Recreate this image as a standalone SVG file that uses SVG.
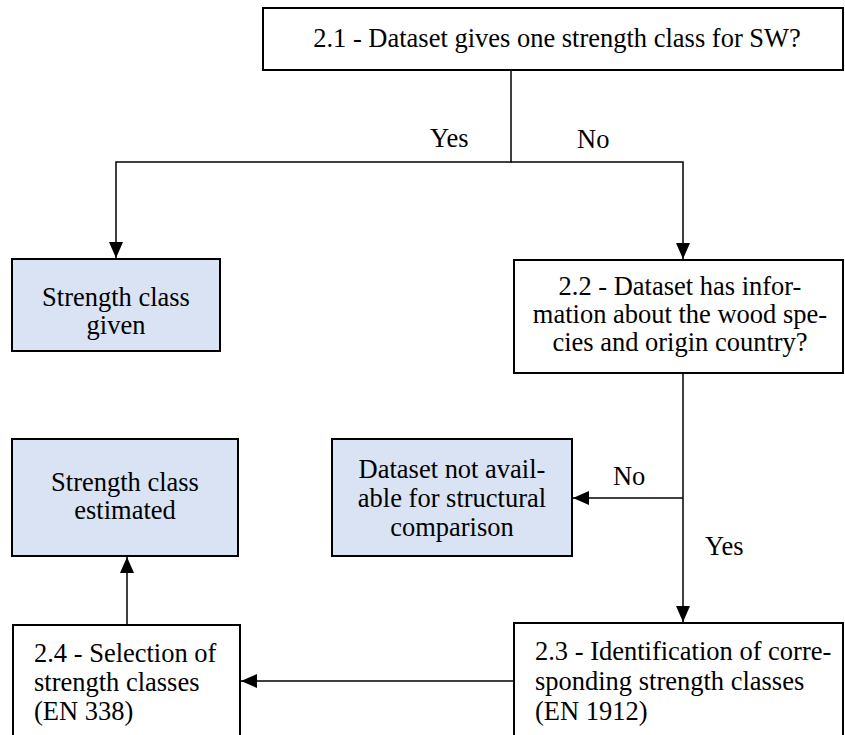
<svg xmlns="http://www.w3.org/2000/svg" width="845" height="735" viewBox="0 0 845 735">
<defs>
<marker id="arr" viewBox="0 0 16 14" refX="16" refY="7" markerWidth="16" markerHeight="14" markerUnits="userSpaceOnUse" orient="auto">
<path d="M0,0 L16,7 L0,14 Z" fill="#000"/>
</marker>
</defs>
<style>
.box{fill:#fff;stroke:#000;stroke-width:2}
.blue{fill:#DAE3F3;stroke:#000;stroke-width:2}
.ln{fill:none;stroke:#000;stroke-width:1.5}
</style>
<rect width="845" height="735" fill="#fff"/>
<g id="n21">
<rect class="box" x="263" y="8" width="580" height="62"/>
<g transform="scale(0.88333)">
<text x="630.57" y="53.21" font-size="30" font-family="'Liberation Serif'" text-anchor="middle">2.1 - Dataset gives one strength class for SW?</text>
</g>
</g>
<g id="given">
<rect class="blue" x="12" y="259" width="208" height="92"/>
<g transform="scale(0.88333)">
<text x="131.32" y="346.42" font-size="30" font-family="'Liberation Serif'" text-anchor="middle">Strength class</text>
<text x="131.32" y="378.11" font-size="30" font-family="'Liberation Serif'" text-anchor="middle">given</text>
</g>
</g>
<g id="n22">
<rect class="box" x="514" y="260" width="329" height="113"/>
<g transform="scale(0.88333)">
<text x="769.81" y="333.96" font-size="30" font-family="'Liberation Serif'" text-anchor="middle">2.2 - Dataset has infor-</text>
<text x="769.81" y="365.66" font-size="30" font-family="'Liberation Serif'" text-anchor="middle">mation about the wood spe-</text>
<text x="769.81" y="397.36" font-size="30" font-family="'Liberation Serif'" text-anchor="middle">cies and origin country?</text>
</g>
</g>
<g id="estimated">
<rect class="blue" x="12" y="439" width="226" height="117"/>
<g transform="scale(0.88333)">
<text x="141.51" y="555.85" font-size="30" font-family="'Liberation Serif'" text-anchor="middle">Strength class</text>
<text x="141.51" y="587.55" font-size="30" font-family="'Liberation Serif'" text-anchor="middle">estimated</text>
</g>
</g>
<g id="notavail">
<rect class="blue" x="332" y="439" width="240" height="117"/>
<g transform="scale(0.88333)">
<text x="511.70" y="541.13" font-size="30" font-family="'Liberation Serif'" text-anchor="middle">Dataset not avail-</text>
<text x="511.70" y="573.96" font-size="30" font-family="'Liberation Serif'" text-anchor="middle">able for structural</text>
<text x="511.70" y="606.79" font-size="30" font-family="'Liberation Serif'" text-anchor="middle">comparison</text>
</g>
</g>
<g id="n24">
<rect class="box" x="13" y="625" width="227" height="140"/>
<g transform="scale(0.88333)">
<text x="38.49" y="749.43" font-size="30" font-family="'Liberation Serif'">2.4 - Selection of</text>
<text x="38.49" y="782.26" font-size="30" font-family="'Liberation Serif'">strength classes</text>
<text x="38.49" y="815.09" font-size="30" font-family="'Liberation Serif'">(EN 338)</text>
</g>
</g>
<g id="n23">
<rect class="box" x="514" y="623" width="329" height="140"/>
<g transform="scale(0.88333)">
<text x="605.66" y="747.17" font-size="30" font-family="'Liberation Serif'">2.3 - Identification of corre-</text>
<text x="605.66" y="781.13" font-size="30" font-family="'Liberation Serif'">sponding strength classes</text>
<text x="605.66" y="815.09" font-size="30" font-family="'Liberation Serif'">(EN 1912)</text>
</g>
</g>
<g id="connectors">
<path class="ln" d="M511,70 V162 H116 V258" marker-end="url(#arr)"/>
<path class="ln" d="M511,162 H683 V259" marker-end="url(#arr)"/>
<path class="ln" d="M683,373 V622" marker-end="url(#arr)"/>
<path class="ln" d="M683,498 H573" marker-end="url(#arr)"/>
<path class="ln" d="M514,681 H241" marker-end="url(#arr)"/>
<path class="ln" d="M127,625 V557" marker-end="url(#arr)"/>
<g transform="scale(0.88333)">
<text x="486.79" y="166.42" font-size="30" font-family="'Liberation Serif'">Yes</text>
<text x="653.21" y="167.55" font-size="30" font-family="'Liberation Serif'">No</text>
<text x="693.96" y="549.06" font-size="30" font-family="'Liberation Serif'">No</text>
<text x="798.11" y="628.30" font-size="30" font-family="'Liberation Serif'">Yes</text>
</g>
</g>
</svg>
